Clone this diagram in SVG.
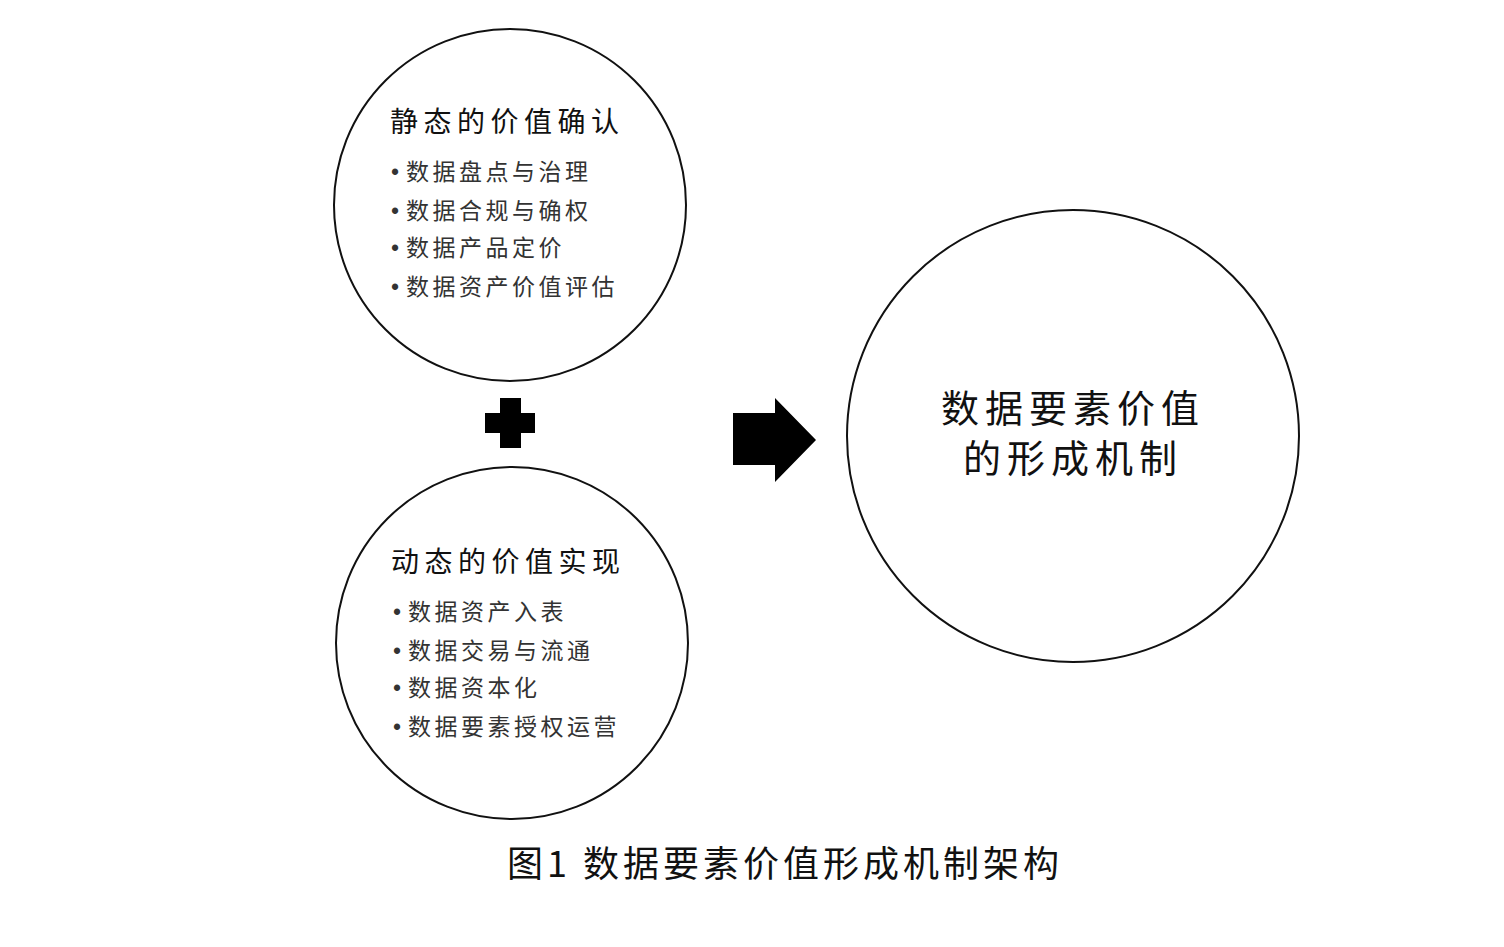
<svg xmlns="http://www.w3.org/2000/svg" width="1504" height="947" viewBox="0 0 1504 947">
<style>
text{font-family:"Noto Sans CJK SC","Liberation Sans",sans-serif;fill:#111}
.c{fill:#fff;stroke:#111;stroke-width:2}
.t{font-size:28px;letter-spacing:5.5px}
.b{font-size:23px;letter-spacing:3.5px;fill:#333}
.d{font-family:"Liberation Sans",sans-serif;font-size:23px;fill:#333}
</style>
<rect width="1504" height="947" fill="#fff"/>
<g id="static">
<circle class="c" cx="510" cy="205" r="176"/>
<text class="t" x="390" y="132">静态的价值确认</text>
<text class="d" x="391" y="180">•</text><text class="b" x="406" y="180">数据盘点与治理</text>
<text class="d" x="391" y="219">•</text><text class="b" x="406" y="219">数据合规与确权</text>
<text class="d" x="391" y="256">•</text><text class="b" x="406" y="256">数据产品定价</text>
<text class="d" x="391" y="295">•</text><text class="b" x="406" y="295">数据资产价值评估</text>
</g>
<g id="dynamic">
<circle class="c" cx="512" cy="643" r="176"/>
<text class="t" x="391" y="572">动态的价值实现</text>
<text class="d" x="393" y="620">•</text><text class="b" x="408" y="620">数据资产入表</text>
<text class="d" x="393" y="659">•</text><text class="b" x="408" y="659">数据交易与流通</text>
<text class="d" x="393" y="696">•</text><text class="b" x="408" y="696">数据资本化</text>
<text class="d" x="393" y="735">•</text><text class="b" x="408" y="735">数据要素授权运营</text>
</g>
<g id="result">
<circle class="c" cx="1073" cy="436" r="226"/>
<text x="1073" y="422" text-anchor="middle" style="font-size:38px;letter-spacing:6px">数据要素价值</text>
<text x="1073" y="472" text-anchor="middle" style="font-size:38px;letter-spacing:6px">的形成机制</text>
</g>
<g id="connectors">
<g id="plus" fill="#000">
<rect x="500" y="398" width="21" height="50"/>
<rect x="485" y="413" width="50" height="20"/>
</g>
<path id="arrow" d="M733 413H775V398L816 440L775 482V465H733Z" fill="#000"/>
</g>
<text x="785" y="877" text-anchor="middle" style="font-size:36px;letter-spacing:4px">图1 数据要素价值形成机制架构</text>
</svg>
